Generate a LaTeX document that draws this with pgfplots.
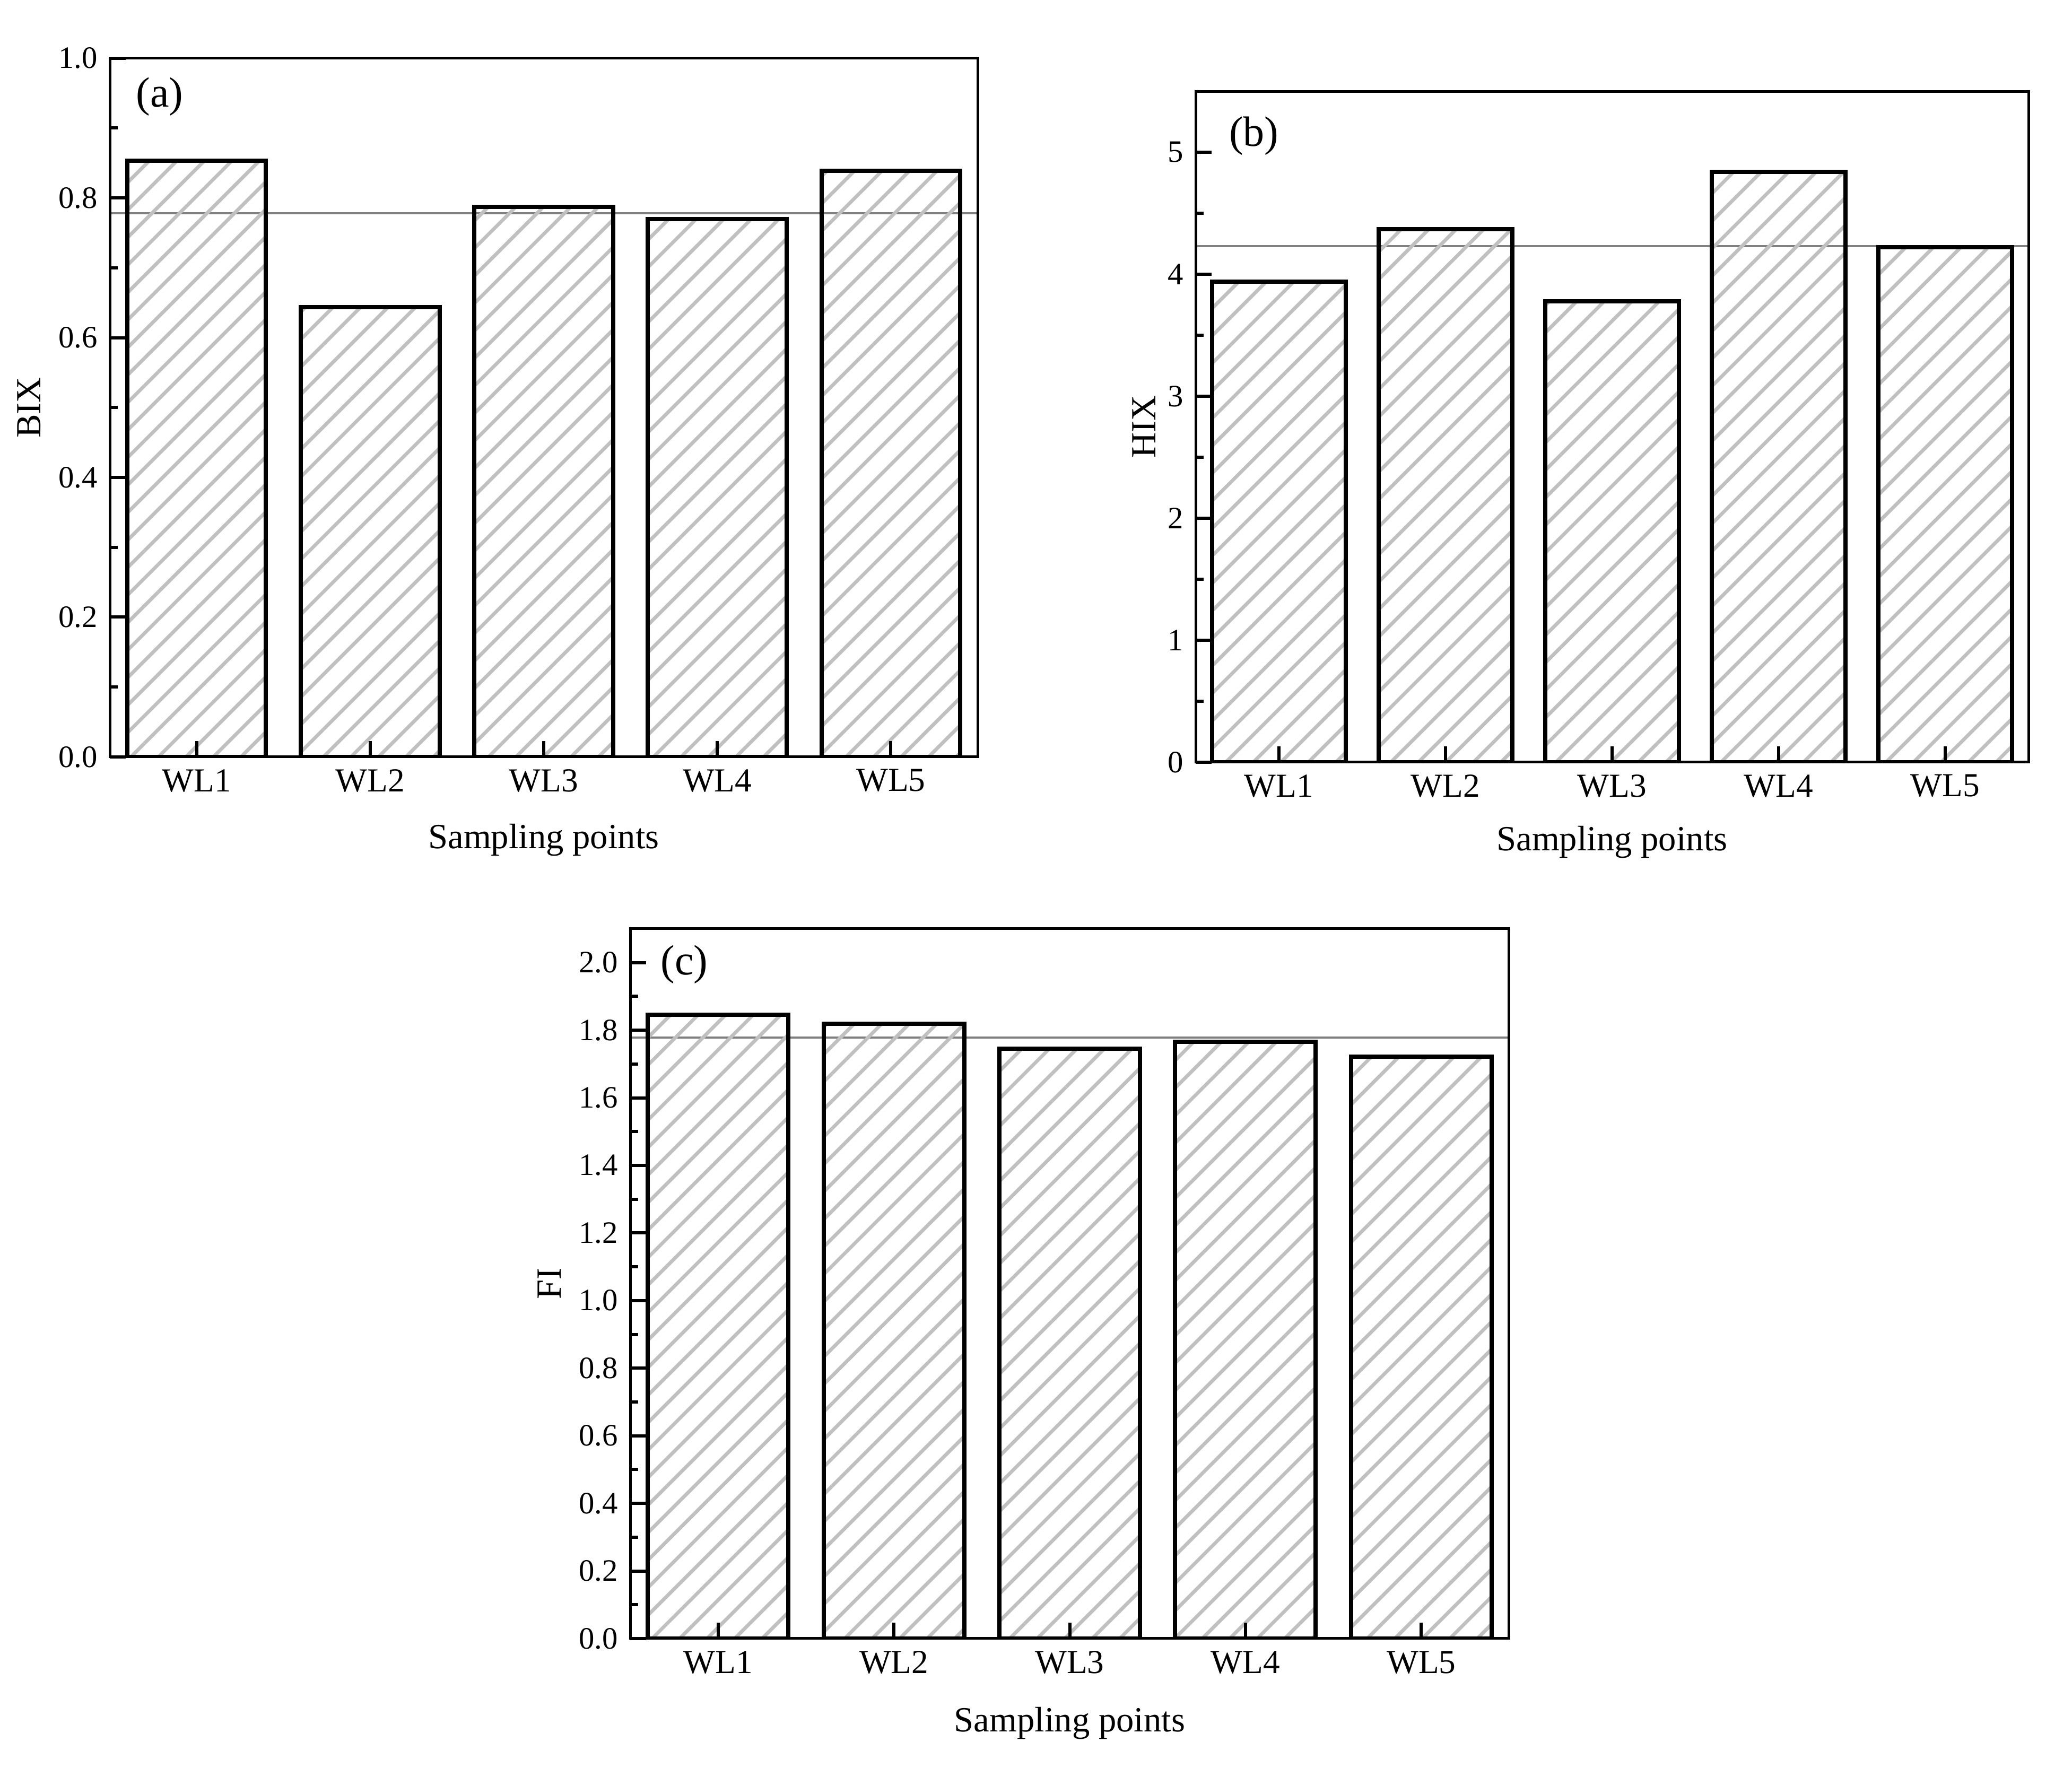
\documentclass[border=0pt]{standalone}
\usepackage{fontspec}
\setmainfont{Liberation Serif}
\usepackage{pgfplots}
\pgfplotsset{compat=1.18}
\usetikzlibrary{patterns.meta}
\definecolor{hatch}{HTML}{C0C0C0}
\definecolor{meanc}{HTML}{808080}

\pgfplotsset{
  panel/.style={
    scale only axis,
    axis on top,
    axis line style={line width=0.75pt},
    xmin=0.5, xmax=5.5,
    xtick={1,2,3,4,5},
    xticklabels={WL1,WL2,WL3,WL4,WL5},
    xtick pos=bottom, ytick pos=left,
    tick align=inside,
    major tick length=4.5pt, minor tick length=2.2pt,
    every tick/.style={black, line width=0.9pt},
    minor y tick num=1,
    ymin=0,
    xticklabel style={font=\fontsize{9.5}{11}\selectfont},
    yticklabel style={font=\fontsize{8.8}{10}\selectfont},
    label style={font=\fontsize{10}{12}\selectfont},
    xlabel={Sampling points},
    xlabel style={at={(axis description cs:0.5,-0.119)},anchor=center},
    /pgf/number format/assume math mode=true,
  },
  onedec/.style={yticklabel style={/pgf/number format/.cd, fixed, fixed zerofill, precision=1}},
  hbar/.style={ybar, bar width=0.8, draw=black, line width=1.2pt,
    pattern={Lines[angle=45,distance=5.5pt,line width=1pt]}, pattern color=hatch},
  meanline/.style={meanc, line width=0.65pt, forget plot, mark=none},
}

\begin{document}
\begin{tikzpicture}
\useasboundingbox (0,0) rectangle (585.9pt,499.95pt);

% (a) BIX
\begin{axis}[panel, onedec,
  at={(31.05pt,285.9pt)}, anchor=south west,
  width=245.4pt, height=197.6pt,
  ymax=1.0, ytick={0,0.2,0.4,0.6,0.8,1.0},
  ylabel={BIX},
  ylabel style={at={(axis description cs:-0.093,0.5)},anchor=center},
]
\addplot[meanline] coordinates {(0.5,0.778) (5.5,0.778)};
\addplot[hbar] coordinates {(1,0.853) (2,0.644) (3,0.787) (4,0.770) (5,0.839)};
\node[font=\fontsize{12}{14}\selectfont] at (rel axis cs:0.0575,0.945) {(a)};
\end{axis}

% (b) HIX
\begin{axis}[panel,
  at={(338.1pt,284.4pt)}, anchor=south west,
  width=235.5pt, height=189.75pt,
  ymax=5.5, ytick={0,1,2,3,4,5},
  ylabel={HIX},
  ylabel style={at={(axis description cs:-0.062,0.5)},anchor=center},
]
\addplot[meanline] coordinates {(0.5,4.23) (5.5,4.23)};
\addplot[hbar] coordinates {(1,3.94) (2,4.37) (3,3.78) (4,4.84) (5,4.22)};
\node[font=\fontsize{12}{14}\selectfont] at (rel axis cs:0.07,0.933) {(b)};
\end{axis}

% (c) FI
\begin{axis}[panel, onedec,
  at={(178.2pt,36.6pt)}, anchor=south west,
  width=248.55pt, height=200.7pt,
  ymax=2.1, ytick={0,0.2,0.4,0.6,0.8,1.0,1.2,1.4,1.6,1.8,2.0},
  ylabel={FI},
  ylabel style={at={(axis description cs:-0.092,0.5)},anchor=center},
]
\addplot[meanline] coordinates {(0.5,1.778) (5.5,1.778)};
\addplot[hbar] coordinates {(1,1.845) (2,1.819) (3,1.745) (4,1.765) (5,1.721)};
\node[font=\fontsize{12}{14}\selectfont] at (rel axis cs:0.0616,0.95) {(c)};
\end{axis}
\end{tikzpicture}
\end{document}
